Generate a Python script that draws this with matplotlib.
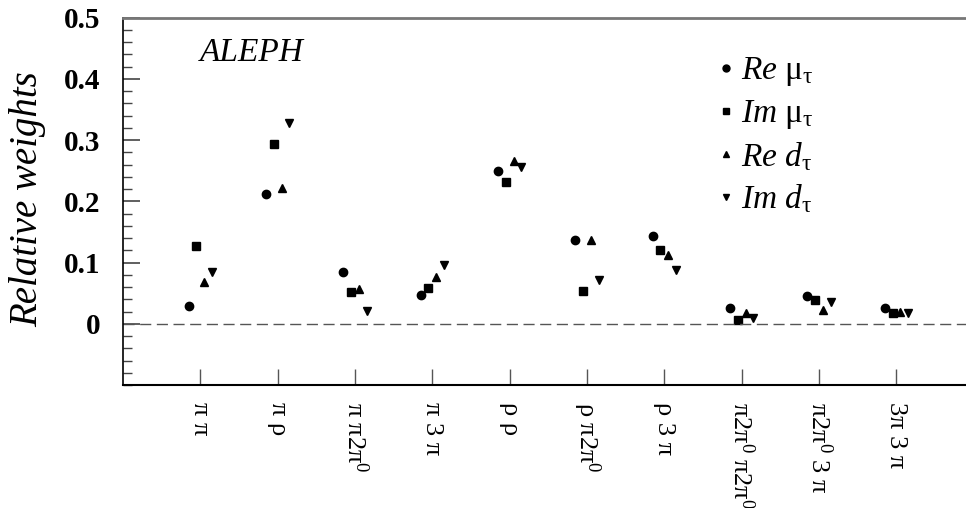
import matplotlib
matplotlib.use("Agg")
import matplotlib.pyplot as plt
import numpy as np
from matplotlib.ticker import MultipleLocator, FuncFormatter

plt.rcParams['font.family'] = ['Liberation Serif', 'DejaVu Serif']
plt.rcParams['mathtext.fontset'] = 'custom'
plt.rcParams['mathtext.rm'] = 'Liberation Serif'
plt.rcParams['mathtext.it'] = 'Liberation Serif:italic'
plt.rcParams['mathtext.bf'] = 'Liberation Serif:bold'

# channel pairs on the x axis
channels = ["π π", "π ρ", r"π π2π$^{\mathrm{0}}$", "π 3 π", "ρ ρ",
            r"ρ π2π$^{\mathrm{0}}$", "ρ 3 π",
            r"π2π$^{\mathrm{0}}$ π2π$^{\mathrm{0}}$",
            r"π2π$^{\mathrm{0}}$ 3 π", "3π 3 π"]

# relative weights
re_mu = [0.029, 0.212, 0.084, 0.047, 0.249, 0.136, 0.143, 0.026, 0.045, 0.025]
im_mu = [0.127, 0.293, 0.052, 0.059, 0.231, 0.053, 0.120, 0.006, 0.039, 0.018]
re_d = [0.069, 0.221, 0.056, 0.076, 0.266, 0.137, 0.112, 0.017, 0.023, 0.019]
im_d = [0.085, 0.328, 0.021, 0.096, 0.256, 0.071, 0.088, 0.010, 0.035, 0.018]

series = [
    (re_mu, 'o', 6.0, 5.0, -0.15, r'$\mathit{Re}$ μ$_{\mathrm{τ}}$'),
    (im_mu, 's', 5.5, 4.5, -0.05, r'$\mathit{Im}$ μ$_{\mathrm{τ}}$'),
    (re_d, '^', 6.0, 4.0, 0.05, r'$\mathit{Re}\ d_{\mathrm{τ}}$'),
    (im_d, 'v', 6.0, 4.0, 0.15, r'$\mathit{Im}\ d_{\mathrm{τ}}$'),
]


def main():
    fig = plt.figure(figsize=(9.66, 5.08), dpi=100)
    ax = fig.add_axes([0.1273, 0.2421, 0.8727, 0.7234])

    x = np.arange(1, len(channels) + 1)
    for values, marker, ms, _, offset, _ in series:
        ax.plot(x + offset, values, linestyle='none', marker=marker,
                color='black', markersize=ms)

    ax.axhline(0, color='#555555', linewidth=1.0, dashes=(8, 4))

    ax.set_xlim(0, 10.9)
    ax.set_ylim(-0.1, 0.5)
    ax.set_xticks(x)
    ax.set_xticklabels(channels, rotation=270, fontsize=19,
                       ha='center', va='top')
    ax.set_yticks([0, 0.1, 0.2, 0.3, 0.4, 0.5])
    ax.yaxis.set_minor_locator(MultipleLocator(0.02))
    ax.yaxis.set_major_formatter(FuncFormatter(
        lambda v, p: "0" if abs(v) < 1e-9 else "%.1f" % v))

    ax.tick_params(axis='y', which='major', direction='in', length=12,
                   width=1.2, color='#444444', pad=16, labelsize=21)
    ax.tick_params(axis='y', which='minor', direction='in', length=6.5,
                   width=1.0, color='#444444')
    ax.tick_params(axis='x', which='major', direction='in', length=11.5,
                   width=1.0, color='#555555', pad=12)
    for lab in ax.get_yticklabels():
        lab.set_fontweight('bold')

    ax.spines['right'].set_visible(False)
    ax.spines['top'].set_color('#777777')
    ax.spines['top'].set_linewidth(2.0)
    ax.spines['left'].set_linewidth(1.2)
    ax.spines['bottom'].set_linewidth(1.5)

    ax.text(0.0913, 0.8825, "ALEPH", transform=ax.transAxes,
            fontsize=24, fontstyle='italic', va='baseline')

    # legend keys
    key_y = [0.8327, 0.7150, 0.5966, 0.4803]
    for (values, marker, _, lms, _, label), ky in zip(series, key_y):
        ax.plot([0.715], [ky + 0.031], transform=ax.transAxes,
                marker=marker, color='black', markersize=lms,
                linestyle='none')
        ax.text(0.733, ky, label, transform=ax.transAxes, fontsize=24,
                va='baseline')

    fig.text(28 / 966, 1 - 199 / 508, "Relative weights", rotation=90,
             fontsize=28, fontstyle='italic', ha='center', va='center')

    fig.savefig("out.png", dpi=100)


if __name__ == "__main__":
    main()
